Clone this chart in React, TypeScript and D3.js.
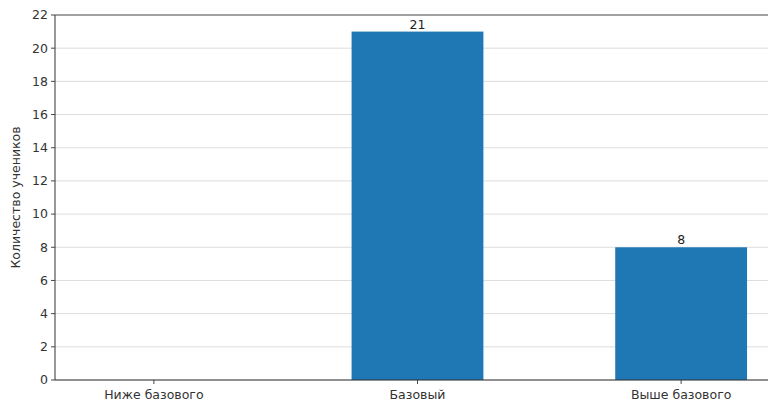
import React from "react";
import * as d3 from "d3";

const categories = ["Ниже базового", "Базовый", "Выше базового"];
const values = [0, 21, 8];
const yTicks = [0, 2, 4, 6, 8, 10, 12, 14, 16, 18, 20, 22];
const yLabel = "Количество учеников";

export default function App() {
  const W = 768, H = 405;
  const left = 55, top = 15, bottom = 380, right = 780;
  const x = d3.scaleLinear().domain([-0.375, 2.375]).range([left, right]);
  const y = d3.scaleLinear().domain([0, 22]).range([bottom, top]);
  const bw = x(0.5) - x(0);
  const font = "DejaVu Sans, sans-serif";
  return (
    <svg width={W} height={H} style={{ position: "fixed", left: 0, top: 0, background: "#fff" }}>
      <rect x={0} y={0} width={W} height={H} fill="#fff" />
      {yTicks.map((t) => (
        <g key={t}>
          <line x1={left} x2={right} y1={y(t)} y2={y(t)} stroke="#d9d9d9" strokeWidth={0.9} />
          <line x1={left - 4} x2={left} y1={y(t)} y2={y(t)} stroke="#333" strokeWidth={0.9} />
          <text x={left - 7} y={y(t)} dy="0.35em" textAnchor="end" fontFamily={font} fontSize={12.5} fill="#333">
            {t}
          </text>
        </g>
      ))}
      {categories.map((c, i) => (
        <g key={c}>
          <rect x={x(i) - bw / 2} y={y(values[i])} width={bw} height={y(0) - y(values[i])} fill="#1f77b4" />
          {values[i] > 0 && (
            <text x={x(i)} y={y(values[i]) - 3} textAnchor="middle" fontFamily={font} fontSize={12.5} fill="#222">
              {values[i]}
            </text>
          )}
          <line x1={x(i)} x2={x(i)} y1={bottom} y2={bottom + 4} stroke="#333" strokeWidth={0.9} />
          <text x={x(i)} y={bottom + 19} textAnchor="middle" fontFamily={font} fontSize={12.5} fill="#333">
            {c}
          </text>
        </g>
      ))}
      <line x1={left} x2={left} y1={top} y2={bottom} stroke="#333" strokeWidth={1} />
      <line x1={left} x2={right} y1={bottom} y2={bottom} stroke="#333" strokeWidth={1} />
      <line x1={left} x2={right} y1={top} y2={top} stroke="#555" strokeWidth={1.2} />
      <text
        transform={`translate(20, ${(top + bottom) / 2}) rotate(-90)`}
        textAnchor="middle"
        fontFamily={font}
        fontSize={12.5}
        fill="#333"
      >
        {yLabel}
      </text>
    </svg>
  );
}
